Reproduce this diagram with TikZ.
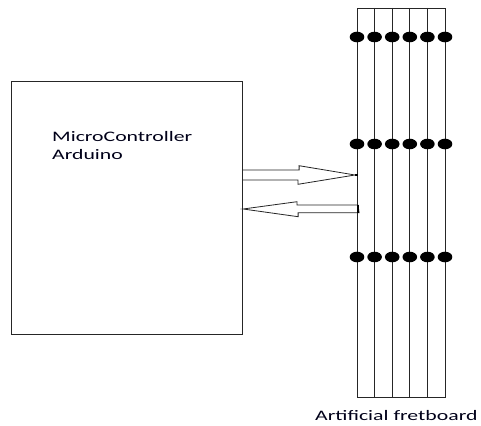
\documentclass[tikz,border=0pt]{standalone}
\usepackage{fontspec}
\setmainfont{Carlito}
\usetikzlibrary{positioning,calc}

\tikzset{
  box/.style={draw=black!85,line width=1.1pt,anchor=north west,inner sep=0pt},
  blockarrow/.style={draw=black!85,line width=0.8pt,line join=miter},
  fretdot/.style={fill=black},
  wide/.style={font=\fontsize{14.5}{18.3}\selectfont,inner sep=0pt,text=black!90!blue}
}
\newcommand{\widetext}[1]{\scalebox{1.5}[1]{\begin{tabular}[t]{@{}l@{}}#1\end{tabular}}}

\begin{document}
\begin{tikzpicture}[x=1pt,y=-1pt]
\useasboundingbox[fill=white](0,0)rectangle(481,425);
\node[box,minimum width=231pt,minimum height=253pt](mcu)at(11,81){};
\node[wide,anchor=base west](mcutext)at(52,141){\widetext{MicroController\\Arduino}};
\node[box,line width=0.9pt,minimum width=88pt,minimum height=389pt](fret)at(357,8){};
\foreach \i in {1,...,4}
  \draw[black!85,line width=0.9pt]($(fret.north west)+(\i*17.6,0)$)--($(fret.south west)+(\i*17.6,0)$);
\foreach \y in {29,136,249}
  \foreach \i in {0,...,5}
    \fill[fretdot]($(fret.north west)+(\i*17.6,\y)$)ellipse(7.3pt and 5.3pt);
\node[wide,anchor=base west](fretlbl)at($(fret.south west)+(-42,23)$){\widetext{Artificial fretboard}};
\coordinate(out1)at($(mcu.north east)+(0,94)$);
\coordinate(in1)at($(fret.north west)+(-2,167)$);
\draw[blockarrow](out1)++(0,-5)--++(56,0)--++(0,-4.3)--(in1)--++(-57,9.3)--++(0,-4.3)--++(-56,0);
\draw[black,line width=1.2pt](in1)--++(2.5,0);
\coordinate(out2)at($(fret.north west)+(1,201)$);
\coordinate(in2)at($(mcu.north east)+(0,128)$);
\draw[blockarrow](out2)++(0,-4)--++(-61,0)--++(0,-3.3)--(in2)--++(55,7.7)--++(0,-4)--++(61,0)--cycle;
\draw[black,line width=1.6pt]($(out2)+(0,-4)$)--++(0,7.7);
\end{tikzpicture}
\end{document}
